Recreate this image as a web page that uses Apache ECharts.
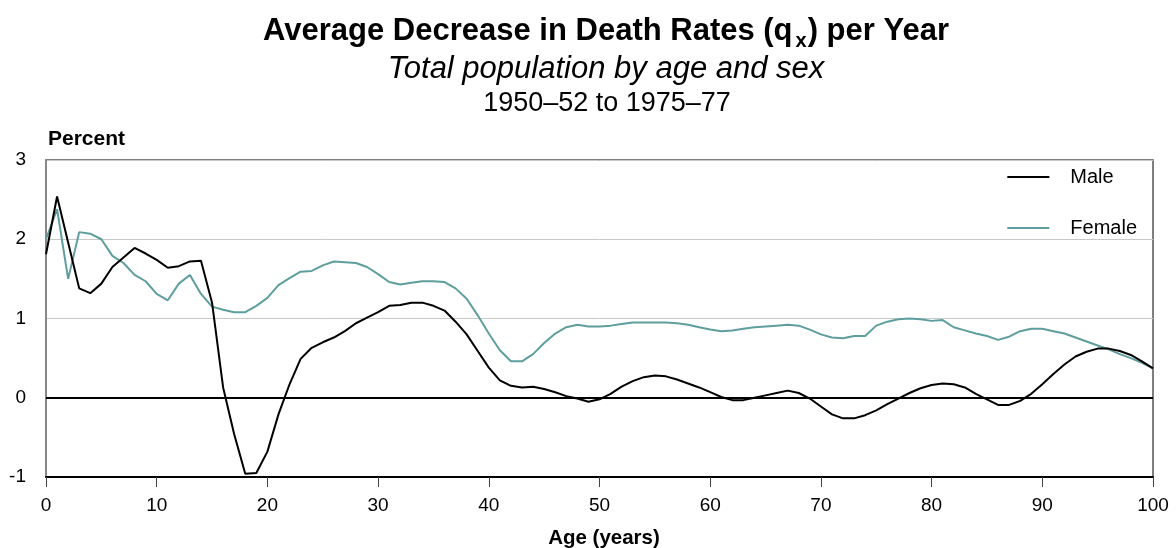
<!DOCTYPE html>
<html><head><meta charset="utf-8">
<script src="https://cdn.jsdelivr.net/npm/echarts@6/dist/echarts.min.js"></script>
<style>html,body{margin:0;padding:0;background:#fff}#c{width:1176px;height:548px}</style>
</head><body><div id="c"></div>
<script>
const ages = Array.from({length:101},(_,i)=>i);
const male = [1.81,2.54,1.96,1.38,1.32,1.44,1.65,1.77,1.89,1.82,
1.74,1.64,1.66,1.72,1.73,1.20,0.13,-0.46,-0.96,-0.95,
-0.68,-0.21,0.17,0.49,0.63,0.70,0.76,0.84,0.94,1.01,
1.08,1.16,1.17,1.20,1.20,1.16,1.10,0.96,0.80,0.59,
0.38,0.22,0.15,0.13,0.14,0.11,0.07,0.02,-0.01,-0.05,
-0.02,0.05,0.14,0.21,0.26,0.28,0.27,0.23,0.18,0.13,
0.07,0.01,-0.03,-0.03,0.00,0.03,0.06,0.09,0.06,-0.01,
-0.11,-0.21,-0.26,-0.26,-0.22,-0.16,-0.08,-0.01,0.06,0.12,
0.16,0.18,0.17,0.13,0.05,-0.02,-0.09,-0.09,-0.04,0.05,
0.17,0.30,0.42,0.52,0.58,0.62,0.62,0.59,0.54,0.46,0.37];
const female = [2.00,2.38,1.50,2.09,2.07,2.00,1.79,1.70,1.55,1.47,
1.31,1.23,1.44,1.55,1.31,1.15,1.11,1.08,1.08,1.16,
1.26,1.42,1.51,1.59,1.60,1.67,1.72,1.71,1.70,1.65,
1.56,1.46,1.43,1.45,1.47,1.47,1.46,1.38,1.25,1.04,
0.81,0.60,0.46,0.46,0.55,0.69,0.81,0.89,0.92,0.90,
0.90,0.91,0.93,0.95,0.95,0.95,0.95,0.94,0.92,0.89,
0.86,0.84,0.85,0.87,0.89,0.90,0.91,0.92,0.91,0.86,
0.80,0.76,0.75,0.78,0.78,0.91,0.96,0.99,1.00,0.99,
0.97,0.98,0.89,0.85,0.81,0.78,0.73,0.77,0.84,0.87,
0.87,0.84,0.81,0.76,0.71,0.66,0.61,0.55,0.50,0.44,0.37];
const xTicks = [0,10,20,30,40,50,60,70,80,90,100];
const yTicks = [-1,0,1,2,3];

const FONT = '"Liberation Sans", Arial, sans-serif';
const chart = echarts.init(document.getElementById('c'));
chart.setOption({
  animation:false,
  textStyle:{fontFamily:FONT},
  title:[
    {text:'{t|Average Decrease in Death Rates (q}{s|x}{t|) per Year}', left:606, textAlign:'center', top:16, padding:0,
     textStyle:{rich:{t:{fontSize:31,fontWeight:'bold',color:'#000',fontFamily:FONT,lineHeight:35,verticalAlign:'top'},
                     s:{fontSize:20,fontWeight:'bold',color:'#000',fontFamily:FONT,lineHeight:35,verticalAlign:'top',padding:[15,1,0,3]}}}},
    {text:'Total population by age and sex', left:606, textAlign:'center', top:54, padding:0,
     textStyle:{fontSize:31,fontStyle:'italic',fontWeight:'normal',color:'#000',fontFamily:FONT}},
    {text:'1950–52 to 1975–77', left:607, textAlign:'center', top:90, padding:0,
     textStyle:{fontSize:27,fontWeight:'normal',color:'#000',fontFamily:FONT}},
    {text:'Percent', left:48, top:129, padding:0, textStyle:{fontSize:21,fontWeight:'bold',color:'#000',fontFamily:FONT}},
    {text:'Age (years)', left:604, textAlign:'center', top:528, padding:0, textStyle:{fontSize:20.5,fontWeight:'bold',color:'#000',fontFamily:FONT}}
  ],
  legend:{
    orient:'vertical', right:39, top:167, padding:0, icon:'rect', itemWidth:42, itemHeight:2, itemGap:31,
    textStyle:{fontSize:20,color:'#000',fontFamily:FONT,lineHeight:20,padding:[0,0,0,16]},
    data:['Male','Female']
  },
  grid:{left:46, right:23, top:160, bottom:71, show:true, borderColor:'#555', borderWidth:1.5},
  xAxis:{type:'value', min:0, max:100, interval:10,
    axisLine:{show:true, onZero:false, lineStyle:{color:'#000', width:2}},
    axisTick:{show:true, length:10, lineStyle:{color:'#444', width:1}},
    axisLabel:{fontSize:19, color:'#000', margin:19, fontFamily:FONT,
      formatter:v=>xTicks.includes(v)?String(v):''},
    splitLine:{show:false}},
  yAxis:{type:'value', min:-1, max:3, interval:1,
    axisLine:{show:true, onZero:false, lineStyle:{color:'#888', width:2}},
    axisTick:{show:false},
    axisLabel:{fontSize:19, color:'#000', margin:20, fontFamily:FONT,
      formatter:v=>yTicks.includes(v)?String(v):''},
    splitLine:{show:true, lineStyle:{color:'#c8c8c8', width:1}}},
  series:[
    {name:'Male', type:'line', data:ages.map((a,i)=>[a,male[i]]), symbol:'none',
     lineStyle:{color:'#000', width:2}, itemStyle:{color:'#000'}, z:3,
     markLine:{silent:true, symbol:'none', label:{show:false},
       lineStyle:{color:'#000', width:2, type:'solid'}, data:[{yAxis:0}]}},
    {name:'Female', type:'line', data:ages.map((a,i)=>[a,female[i]]), symbol:'none',
     lineStyle:{color:'#5f9e9e', width:2}, itemStyle:{color:'#5f9e9e'}, z:2}
  ]
});
</script></body></html>
